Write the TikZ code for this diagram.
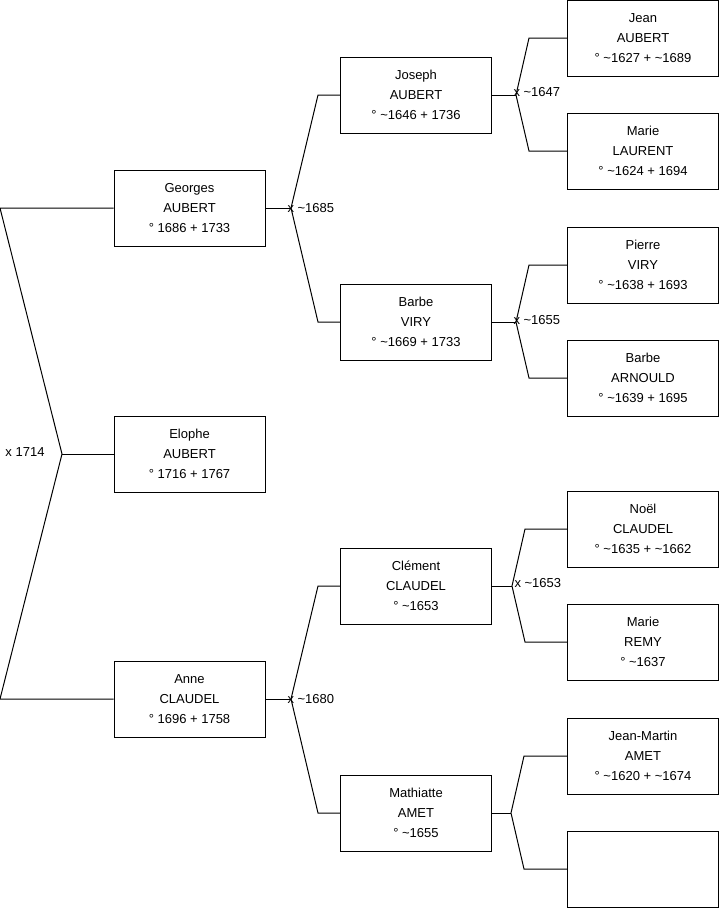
\documentclass[tikz,border=0pt]{standalone}
\usepackage{fontspec}
\setmainfont{Liberation Sans}
\usepackage{tikz}
\newcommand{\vers}{\textasciitilde}
\tikzset{person/.style={draw=black, line width=1pt, minimum width=151pt, minimum height=76pt,
    align=center, inner sep=0pt, font=\fontsize{13}{20}\selectfont}}
\tikzset{union/.style={inner sep=0pt, font=\fontsize{13}{15}\selectfont}}

\begin{document}
\begin{tikzpicture}[x=1pt, y=-1pt, line width=1pt]
  \useasboundingbox (0,0) rectangle (719,908);
  % generation 1
  \node[person] (ELOPHE) at (189.5,454) {Elophe\\AUBERT\\° 1716 + 1767};
  % generation 2
  \node[person] (GEORGES) at (189.5,208) {Georges\\AUBERT\\° 1686 + 1733};
  \node[person] (ANNE) at (189.5,699) {Anne\\CLAUDEL\\° 1696 + 1758};
  % generation 3
  \node[person] (JOSEPH) at (416,95) {Joseph\\AUBERT\\° \vers1646 + 1736};
  \node[person] (BARBEV) at (416,322) {Barbe\\VIRY\\° \vers1669 + 1733};
  \node[person] (CLEMENT) at (416,586) {Clément\\CLAUDEL\\° \vers1653};
  \node[person] (MATHIATTE) at (416,813) {Mathiatte\\AMET\\° \vers1655};
  % generation 4
  \node[person] (JEAN) at (643,38) {Jean\\AUBERT\\° \vers1627 + \vers1689};
  \node[person] (MARIEL) at (643,151) {Marie\\LAURENT\\° \vers1624 + 1694};
  \node[person] (PIERRE) at (643,265) {Pierre\\VIRY\\° \vers1638 + 1693};
  \node[person] (BARBEA) at (643,378) {Barbe\\ARNOULD\\° \vers1639 + 1695};
  \node[person] (NOEL) at (643,529) {Noël\\CLAUDEL\\° \vers1635 + \vers1662};
  \node[person] (MARIER) at (643,642) {Marie\\REMY\\° \vers1637};
  \node[person] (JEANMARTIN) at (643,756) {Jean-Martin\\AMET\\° \vers1620 + \vers1674};
  \node[person] (INCONNU) at (643,869) {};

  % junctions and bends
  \coordinate (J0) at (62,454);
  \coordinate (J0a) at (0,208);
  \coordinate (J0b) at (0,699);
  \coordinate (J1) at (291,208);
  \coordinate (J1a) at (318,95);
  \coordinate (J1b) at (318,322);
  \coordinate (J2) at (291,699);
  \coordinate (J2a) at (318,586);
  \coordinate (J2b) at (318,813);
  \coordinate (J3) at (516,95);
  \coordinate (J3a) at (529,38);
  \coordinate (J3b) at (529,151);
  \coordinate (J4) at (516,322);
  \coordinate (J4a) at (529,265);
  \coordinate (J4b) at (529,378);
  \coordinate (J5) at (512,586);
  \coordinate (J5a) at (525,529);
  \coordinate (J5b) at (525,642);
  \coordinate (J6) at (511,813);
  \coordinate (J6a) at (524,756);
  \coordinate (J6b) at (524,869);

  \draw (ELOPHE.west) -- (J0);
  \draw (GEORGES.west) -- (J0a) -- (J0) -- (J0b) -- (ANNE.west);
  \draw (GEORGES.east) -- (J1);
  \draw (JOSEPH.west) -- (J1a) -- (J1) -- (J1b) -- (BARBEV.west);
  \draw (ANNE.east) -- (J2);
  \draw (CLEMENT.west) -- (J2a) -- (J2) -- (J2b) -- (MATHIATTE.west);
  \draw (JOSEPH.east) -- (J3);
  \draw (JEAN.west) -- (J3a) -- (J3) -- (J3b) -- (MARIEL.west);
  \draw (BARBEV.east) -- (J4);
  \draw (PIERRE.west) -- (J4a) -- (J4) -- (J4b) -- (BARBEA.west);
  \draw (CLEMENT.east) -- (J5);
  \draw (NOEL.west) -- (J5a) -- (J5) -- (J5b) -- (MARIER.west);
  \draw (MATHIATTE.east) -- (J6);
  \draw (JEANMARTIN.west) -- (J6a) -- (J6) -- (J6b) -- (INCONNU.west);

  % marriages
  \node[union, anchor=east] (M0) at (45,452) {x 1714};
  \node[union, anchor=west] (M1) at (287,208) {x \vers1685};
  \node[union, anchor=west] (M2) at (287,699) {x \vers1680};
  \node[union, anchor=west] (M3) at (513,92) {x \vers1647};
  \node[union, anchor=west] (M4) at (513,320) {x \vers1655};
  \node[union, anchor=west] (M5) at (514,583) {x \vers1653};
\end{tikzpicture}
\end{document}
